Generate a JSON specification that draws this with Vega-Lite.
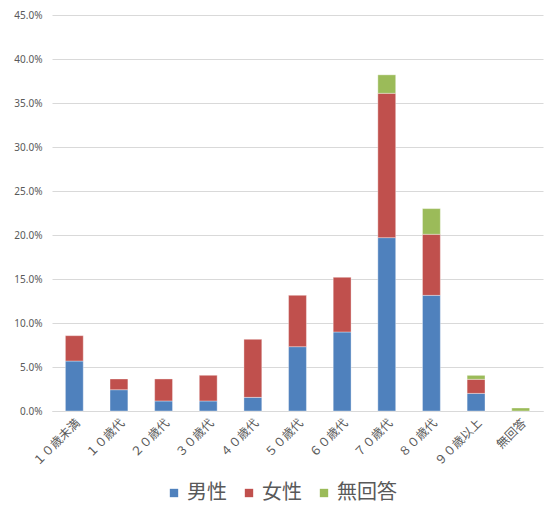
{
  "$schema": "https://vega.github.io/schema/vega-lite/v6.json",
  "autosize": "none",
  "width": 491,
  "height": 396,
  "padding": {"left": 52, "top": 15, "right": 6, "bottom": 106},
  "background": "#ffffff",
  "data": {
    "values": [
      {"年代": "１０歳未満", "区分": "男性", "順": 1, "割合": 0.0568},
      {"年代": "１０歳未満", "区分": "女性", "順": 2, "割合": 0.0288},
      {"年代": "１０歳代", "区分": "男性", "順": 1, "割合": 0.0242},
      {"年代": "１０歳代", "区分": "女性", "順": 2, "割合": 0.0122},
      {"年代": "２０歳代", "区分": "男性", "順": 1, "割合": 0.0114},
      {"年代": "２０歳代", "区分": "女性", "順": 2, "割合": 0.0250},
      {"年代": "３０歳代", "区分": "男性", "順": 1, "割合": 0.0114},
      {"年代": "３０歳代", "区分": "女性", "順": 2, "割合": 0.0291},
      {"年代": "４０歳代", "区分": "男性", "順": 1, "割合": 0.0155},
      {"年代": "４０歳代", "区分": "女性", "順": 2, "割合": 0.0659},
      {"年代": "５０歳代", "区分": "男性", "順": 1, "割合": 0.0731},
      {"年代": "５０歳代", "区分": "女性", "順": 2, "割合": 0.0583},
      {"年代": "６０歳代", "区分": "男性", "順": 1, "割合": 0.0898},
      {"年代": "６０歳代", "区分": "女性", "順": 2, "割合": 0.0621},
      {"年代": "７０歳代", "区分": "男性", "順": 1, "割合": 0.1970},
      {"年代": "７０歳代", "区分": "女性", "順": 2, "割合": 0.1640},
      {"年代": "７０歳代", "区分": "無回答", "順": 3, "割合": 0.0210},
      {"年代": "８０歳代", "区分": "男性", "順": 1, "割合": 0.1314},
      {"年代": "８０歳代", "区分": "女性", "順": 2, "割合": 0.0694},
      {"年代": "８０歳代", "区分": "無回答", "順": 3, "割合": 0.0292},
      {"年代": "９０歳以上", "区分": "男性", "順": 1, "割合": 0.0200},
      {"年代": "９０歳以上", "区分": "女性", "順": 2, "割合": 0.0160},
      {"年代": "９０歳以上", "区分": "無回答", "順": 3, "割合": 0.0045},
      {"年代": "無回答", "区分": "無回答", "順": 3, "割合": 0.0034}
    ]
  },
  "mark": {"type": "bar", "stroke": "#ffffff", "strokeWidth": 0.6, "strokeOpacity": 0.6},
  "encoding": {
    "x": {
      "field": "年代",
      "type": "nominal",
      "sort": ["１０歳未満", "１０歳代", "２０歳代", "３０歳代", "４０歳代", "５０歳代", "６０歳代", "７０歳代", "８０歳代", "９０歳以上", "無回答"],
      "scale": {"paddingInner": 0.6, "paddingOuter": 0.3},
      "axis": {
        "title": null,
        "labelAngle": -45,
        "labelFontSize": 12,
        "labelColor": "#595959",
        "labelFont": "Noto Sans CJK JP",
        "ticks": false,
        "domainColor": "#d9d9d9",
        "labelPadding": 6
      }
    },
    "y": {
      "field": "割合",
      "type": "quantitative",
      "stack": "zero",
      "scale": {"domain": [0, 0.45], "nice": false},
      "axis": {
        "title": null,
        "format": ".1%",
        "values": [0, 0.05, 0.1, 0.15, 0.2, 0.25, 0.3, 0.35, 0.4, 0.45],
        "labelFontSize": 10,
        "labelColor": "#595959",
        "labelFont": "Noto Sans",
        "ticks": false,
        "domain": false,
        "gridColor": "#d9d9d9",
        "labelPadding": 10
      }
    },
    "color": {
      "field": "区分",
      "type": "nominal",
      "scale": {"domain": ["男性", "女性", "無回答"], "range": ["#4F81BD", "#C0504D", "#9BBB59"]},
      "legend": {
        "title": null,
        "orient": "none",
        "direction": "horizontal",
        "legendX": 112,
        "legendY": 468,
        "symbolType": "square",
        "symbolSize": 70,
        "symbolStrokeWidth": 0,
        "labelFontSize": 20,
        "labelColor": "#595959",
        "labelFont": "Noto Sans CJK JP",
        "columnPadding": 12,
        "labelOffset": 3
      }
    },
    "order": {"field": "順", "type": "quantitative"}
  },
  "config": {
    "view": {"stroke": null}
  }
}
